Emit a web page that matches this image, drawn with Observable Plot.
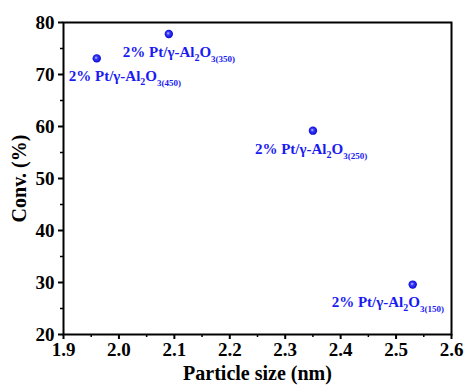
<!DOCTYPE html>
<html><head><meta charset="utf-8">
<script src="https://cdn.jsdelivr.net/npm/d3@7"></script>
<script src="https://cdn.jsdelivr.net/npm/@observablehq/plot@0.6"></script>
<style>
body{margin:0;background:#fff}
#chart svg, #chart svg text{font-family:"Liberation Serif","Times New Roman",serif !important;font-weight:bold !important}
</style>
</head><body><div id="chart"></div>
<script>
// Data
const particleSize = [1.96, 2.09, 2.35, 2.53];
const conversion = [73.1, 77.8, 59.2, 29.6];
const calcTemp = ["450", "350", "250", "150"];
const xTicks = [1.9, 2.0, 2.1, 2.2, 2.3, 2.4, 2.5, 2.6];
const yTicks = [20, 30, 40, 50, 60, 70, 80];
const xMinor = [1.95, 2.05, 2.15, 2.25, 2.35, 2.45, 2.55];
const yMinor = [25, 35, 45, 55, 65, 75];

const data = particleSize.map((x, i) => ({x, y: conversion[i], t: calcTemp[i], label: `2% Pt/γ-Al2O3(${calcTemp[i]})`}));

// label placement (offsets in px relative to each point)
const offs = [[-28, 20], [-46, 20], [-58, 20], [-81, 19]];
const blue = "#1a1af2";

const labelMarks = data.map((d, i) => Plot.text([d], {
  x: "x", y: "y", text: "label", textAnchor: "start", lineAnchor: "bottom",
  dx: offs[i][0], dy: offs[i][1] + 3, fill: blue, fontSize: 15, fontWeight: "bold", className: "lbl"
}));

const plot = Plot.plot({
  width: 466, height: 386,
  marginLeft: 63, marginTop: 22, marginRight: 15, marginBottom: 52,
  style: {fontFamily: '"Liberation Serif","Times New Roman",serif', fontWeight: "bold", background: "#fff", color: "#000"},
  x: {domain: [1.9, 2.6]},
  y: {domain: [20, 80]},
  marks: [
    Plot.axisX(xMinor, {tickSize: 3, text: null, label: null, strokeWidth: 1.5}),
    Plot.axisY(yMinor, {tickSize: 3, text: null, label: null, strokeWidth: 1.5}),
    Plot.axisX(xTicks, {tickSize: 5, tickPadding: 3, tickFormat: d3.format(".1f"), fontSize: 19, strokeWidth: 2,
      label: "Particle size (nm)", labelAnchor: "center", labelOffset: 45, labelArrow: "none"}),
    Plot.axisY(yTicks, {tickSize: 5, tickPadding: 4, fontSize: 19, strokeWidth: 2,
      label: "Conv. (%)", labelAnchor: "center", labelOffset: 52, labelArrow: "none"}),
    Plot.frame({stroke: "#000", strokeWidth: 2}),
    Plot.dot(data, {x: "x", y: "y", r: 4.2, fill: "url(#ball)", stroke: "none"}),
    ...labelMarks
  ]
});

// Axis label font sizes
plot.querySelectorAll('g[aria-label="x-axis label"] text, g[aria-label="y-axis label"] text').forEach(t => t.setAttribute("font-size", 20));

// gradient for the spherical dots
const svgNS = "http://www.w3.org/2000/svg";
const defs = document.createElementNS(svgNS, "defs");
defs.innerHTML = `<radialGradient id="ball" cx="0.5" cy="0.5" r="0.55" fx="0.4" fy="0.4">
  <stop offset="0" stop-color="#ccccff"/><stop offset="0.35" stop-color="#3a3aff"/><stop offset="1" stop-color="#0000c8"/></radialGradient>`;
plot.insertBefore(defs, plot.firstChild);

// rebuild labels with subscripts
plot.querySelectorAll("g.lbl text").forEach(t => {
  const s = t.textContent;
  const m = s.match(/^(.*Al)2O3(\(\d+\))$/);
  if (!m) return;
  t.textContent = "";
  const add = (txt, opts = {}) => {
    const ts = document.createElementNS(svgNS, "tspan");
    ts.textContent = txt;
    for (const k in opts) ts.setAttribute(k, opts[k]);
    t.appendChild(ts);
  };
  add(m[1]);
  add("2", {"font-size": 10, dy: 4});
  add("O", {dy: -4});
  add("3" + m[2], {"font-size": 9, dy: 5});
});

document.getElementById("chart").appendChild(plot);
</script>
</body></html>
